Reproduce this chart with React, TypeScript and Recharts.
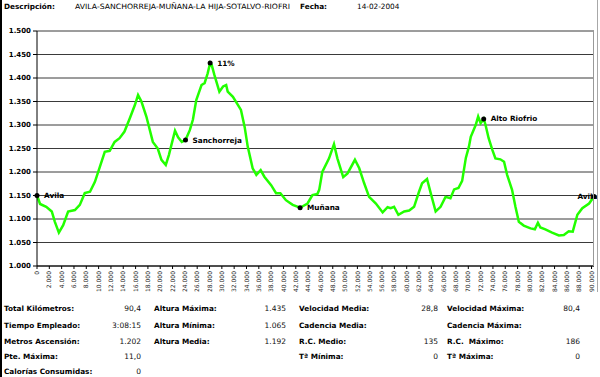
import React from 'react';
import { LineChart, Line, XAxis, YAxis, CartesianGrid, ReferenceDot } from 'recharts';

const distanceKm = [
  0, 0.5, 1.5, 2.4, 2.9, 3.55, 4.25, 5.05, 6.15, 6.95, 7.75, 8.6, 9.4, 10.2, 11.0, 11.8, 12.6, 13.4, 14.2, 15.05,
  15.9, 16.4, 16.95, 17.75, 18.8, 19.6, 20.2, 20.9, 21.4, 22.4, 22.9, 23.5, 24.1, 24.8, 25.3, 25.85, 26.7, 27.2, 27.7, 28.1,
  28.35, 28.8, 29.6, 30.2, 30.7, 30.95, 31.8, 32.6, 33.1, 33.7, 34.2, 35.0, 35.6, 36.3, 36.9, 38.0, 38.8, 39.5, 40.4, 41.5,
  42.7, 43.9, 44.7, 45.5, 45.8, 46.3, 47.4, 48.2, 48.75, 49.7, 50.4, 51.6, 52.3, 53.1, 53.9, 55.0, 56.1, 56.9, 57.4, 57.95,
  58.65, 59.6, 60.4, 61.2, 62.0, 62.5, 63.3, 63.9, 64.7, 65.5, 66.3, 67.1, 67.7, 68.4, 69.0, 69.6, 70.1, 70.4, 71.2, 71.6,
  72.0, 72.5, 72.8, 73.3, 73.9, 74.4, 75.2, 75.8, 76.3, 77.1, 77.65, 78.2, 79.0, 80.1, 80.8, 81.3, 81.7, 82.5, 83.6, 84.7,
  85.5, 86.3, 86.95, 87.7, 88.5, 89.6, 90.4,
];
const elevationM = [
  1150, 1132, 1126, 1116, 1094, 1071, 1087, 1116, 1119, 1130, 1155, 1158, 1179, 1211, 1243, 1245, 1264, 1272, 1286, 1314,
  1343, 1364, 1350, 1318, 1264, 1250, 1226, 1215, 1236, 1288, 1274, 1264, 1268, 1289, 1311, 1353, 1385, 1389, 1410, 1432,
  1428, 1406, 1371, 1382, 1385, 1371, 1360, 1343, 1332, 1296, 1254, 1208, 1194, 1204, 1190, 1172, 1155, 1155, 1140, 1130,
  1124, 1133, 1151, 1153, 1162, 1200, 1229, 1259, 1229, 1189, 1197, 1226, 1208, 1176, 1147, 1133, 1114, 1125, 1123, 1126,
  1109, 1116, 1118, 1126, 1158, 1176, 1185, 1155, 1116, 1126, 1147, 1144, 1163, 1166, 1181, 1230, 1254, 1275, 1300, 1318,
  1304, 1313, 1300, 1272, 1247, 1229, 1227, 1222, 1194, 1162, 1126, 1094, 1086, 1080, 1078, 1092, 1082, 1078, 1071, 1065,
  1066, 1074, 1073, 1109, 1123, 1133, 1148,
];

const xTicks = [
  0, 2000, 4000, 6000, 8000, 10000, 12000, 14000, 16000, 18000, 20000, 22000, 24000, 26000, 28000, 30000,
  32000, 34000, 36000, 38000, 40000, 42000, 44000, 46000, 48000, 50000, 52000, 54000, 56000, 58000, 60000,
  62000, 64000, 66000, 68000, 70000, 72000, 74000, 76000, 78000, 80000, 82000, 84000, 86000, 88000, 90000,
];
const yTicks = [1000, 1050, 1100, 1150, 1200, 1250, 1300, 1350, 1400, 1450, 1500];

const markerNames = ['Avila', 'Sanchorreja', '11%', 'Muñana', 'Alto Riofrio', 'Avila'];
const markerKm = [0, 24.1, 28.1, 42.7, 72.5, 90.4];
const markerElev = [1150, 1268, 1432, 1124, 1313, 1148];

const statLabels1 = ['Total Kilómetros:', 'Tiempo Empleado:', 'Metros Ascensión:', 'Pte. Máxima:', 'Calorías Consumidas:'];
const statValues1 = ['90,4', '3:08:15', '1.202', '11,0', '0'];
const statLabels2 = ['Altura Máxima:', 'Altura Mínima:', 'Altura Media:'];
const statValues2 = ['1.435', '1.065', '1.192'];
const statLabels3 = ['Velocidad Media:', 'Cadencia Media:', 'R.C. Medio:', 'Tª Mínima:'];
const statValues3 = ['28,8', '', '135', '0'];
const statLabels4 = ['Velocidad Máxima:', 'Cadencia Máxima:', 'R.C.  Máximo:', 'Tª Máxima:'];
const statValues4 = ['80,4', '', '186', '0'];

const headerLabel = 'Descripción:';
const headerText = 'AVILA-SANCHORREJA-MUÑANA-LA HIJA-SOTALVO-RIOFRI';
const dateLabel = 'Fecha:';
const dateText = '14-02-2004';

const data = distanceKm.map((d, i) => ({ dist: Math.round(d * 1000), elev: elevationM[i] }));

const fmt = (n: number) => String(n).replace(/\B(?=(\d{3})+(?!\d))/g, '.');
const FONT = '"DejaVu Sans", Verdana, sans-serif';

const XTick = (props: any) => {
  const { x, y, payload } = props;
  return (
    <g transform={`translate(${x},${y}) rotate(-90)`}>
      <text x={0} y={0} dy="0.35em" textAnchor="end" fontSize={6} fontFamily={FONT} fill="#222">
        {fmt(payload.value)}
      </text>
    </g>
  );
};

const rowY = [308, 325, 341, 356, 371];
const colLabelX = [4, 154, 299, 447];
const colValueX = [141, 286, 438, 580];

const StatColumn = ({ labels, values, col }: { labels: string[]; values: string[]; col: number }) => (
  <g>
    {labels.map((l, i) => (
      <g key={i}>
        <text x={colLabelX[col]} y={rowY[i]} dominantBaseline="central" fontSize={7.3} fontWeight="bold" fontFamily={FONT} fill="#000" style={{ whiteSpace: 'pre' }}>
          {l}
        </text>
        <text x={colValueX[col]} y={rowY[i]} dominantBaseline="central" textAnchor="end" fontSize={7.5} fontFamily={FONT} fill="#111">
          {values[i]}
        </text>
      </g>
    ))}
  </g>
);

export default function App() {
  return (
    <div style={{ position: 'absolute', left: 0, top: 0, width: 600, height: 377, background: '#fff', overflow: 'hidden' }}>
      <div style={{ position: 'absolute', left: 0, top: 0 }}>
        <LineChart width={600} height={300} data={data} margin={{ top: 31, right: 6, left: 0, bottom: 0 }}>
          <CartesianGrid horizontal={true} vertical={false} stroke="#3a3a3a" strokeWidth={1} />
          <XAxis
            dataKey="dist"
            type="number"
            domain={[0, 90400]}
            ticks={xTicks}
            interval={0}
            height={34}
            tickSize={3}
            tick={<XTick />}
            axisLine={{ stroke: '#000' }}
            tickLine={{ stroke: '#000' }}
          />
          <YAxis
            type="number"
            domain={[1000, 1500]}
            ticks={yTicks}
            interval={0}
            width={37}
            tickSize={4}
            tickFormatter={fmt}
            tick={{ fontSize: 7, fontWeight: 'bold', fill: '#000', fontFamily: FONT }}
            axisLine={{ stroke: '#000' }}
            tickLine={{ stroke: '#000' }}
          />
          <Line
            type="linear"
            dataKey="elev"
            stroke="#22ff00"
            strokeWidth={2.5}
            dot={false}
            isAnimationActive={false}
          />
          {markerNames.map((name, i) => (
            <ReferenceDot
              key={i}
              x={Math.round(markerKm[i] * 1000)}
              y={markerElev[i]}
              r={2.5}
              fill="#000"
              stroke="#000"
              strokeWidth={0}
              ifOverflow="visible"
              label={{
                value: name,
                position: i === markerNames.length - 1 ? 'left' : 'right',
                offset: i === markerNames.length - 1 ? -6 : 4.5,
                fill: '#000',
                fontSize: 7.3,
                fontWeight: 'bold',
                fontFamily: FONT,
              }}
            />
          ))}
        </LineChart>
      </div>
      <svg width={600} height={377} style={{ position: 'absolute', left: 0, top: 0, pointerEvents: 'none' }}>
        <rect x={0} y={0} width={2} height={377} fill="#000" />
        <line x1={597.5} y1={0} x2={597.5} y2={292} stroke="#a8a8a8" strokeWidth={1} />
        <line x1={593.5} y1={31} x2={593.5} y2={266} stroke="#999" strokeWidth={1} />
        <text x={4} y={6} dominantBaseline="central" fontSize={7.3} fontWeight="bold" fontFamily={FONT} fill="#000">
          {headerLabel}
        </text>
        <text x={75} y={6} dominantBaseline="central" fontSize={7.3} fontFamily={FONT} fill="#000" textLength={215} lengthAdjust="spacingAndGlyphs">
          {headerText}
        </text>
        <text x={300} y={6} dominantBaseline="central" fontSize={7.3} fontWeight="bold" fontFamily={FONT} fill="#000">
          {dateLabel}
        </text>
        <text x={357} y={6} dominantBaseline="central" fontSize={7.3} fontFamily={FONT} fill="#000">
          {dateText}
        </text>
        <StatColumn labels={statLabels1} values={statValues1} col={0} />
        <StatColumn labels={statLabels2} values={statValues2} col={1} />
        <StatColumn labels={statLabels3} values={statValues3} col={2} />
        <StatColumn labels={statLabels4} values={statValues4} col={3} />
      </svg>
    </div>
  );
}
